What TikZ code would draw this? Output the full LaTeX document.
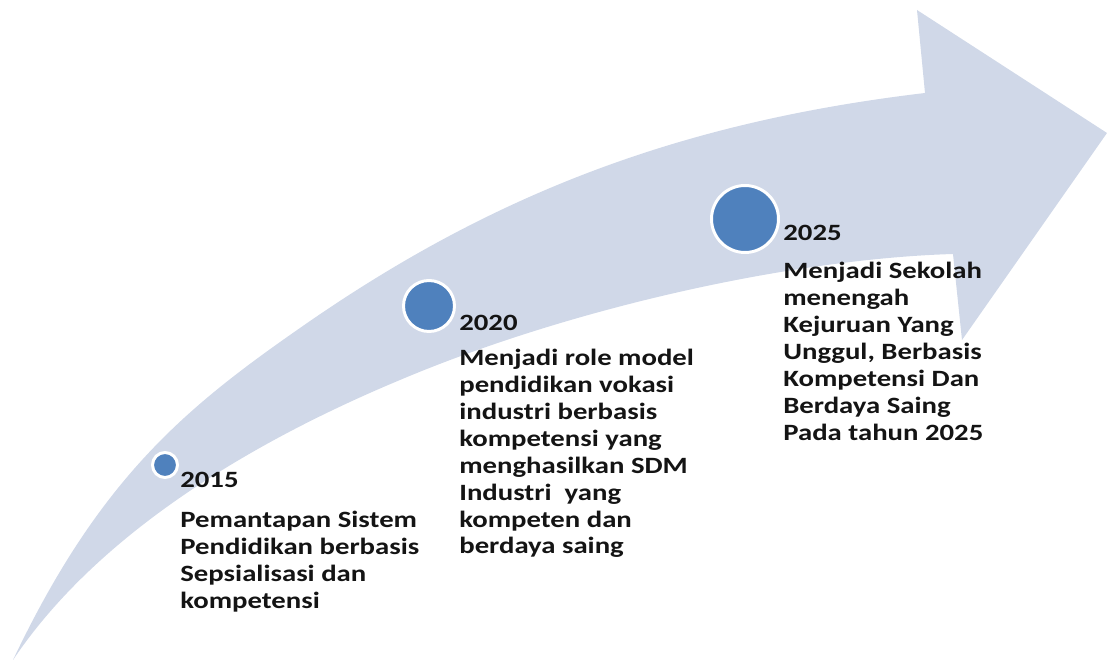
\documentclass[tikz,border=0pt]{standalone}
\usepackage{fontspec}
\setmainfont{Carlito}[FakeStretch=1.23]
\usepackage{xcolor}
\usepackage{tikz}
\usetikzlibrary{positioning}

\definecolor{arrowfill}{HTML}{D0D8E8}
\definecolor{dotblue}{HTML}{4F81BD}
\definecolor{inkblack}{HTML}{141414}

\begin{document}
\begin{tikzpicture}[x=0.02cm, y=-0.02cm,
    milestone/.style={circle, fill=dotblue, draw=white, line width=1.7pt, inner sep=0pt},
    yearlabel/.style={font=\fontsize{13.3}{15.3}\selectfont\bfseries, text=inkblack, inner sep=0pt, anchor=base west},
    infotext/.style={font=\fontsize{13.3}{15.3}\selectfont\bfseries, text=inkblack, inner sep=0pt, anchor=north west, align=left}]

    % Page frame
    \useasboundingbox (0,0) rectangle (1107,661);

    % Curved arrow
    \fill[arrowfill] (13,660) .. controls (99,479) and (185,408) .. (300,328)
        .. controls (493,193) and (681,122) .. (925,93)
        -- (917,10) -- (1107,133) -- (962,340) -- (953,254)
        .. controls (789,259) and (568,309) .. (400,380)
        .. controls (230,451) and (90,545) .. (13,660) -- cycle;

    % Milestones
    \node[milestone, minimum size=0.5cm] (dot2015) at (165,465) {};
    \node[milestone, minimum size=1.02cm] (dot2020) at (429,306) {};
    \node[milestone, minimum size=1.34cm] (dot2025) at (745,219) {};

    % Years
    \node[yearlabel] (year2015) at (180,488) {2015};
    \node[yearlabel] (year2020) at (459,331) {2020};
    \node[yearlabel] (year2025) at (783,241) {2025};

    % Descriptions
    \node[infotext] (info2015) at (180,511) {Pemantapan Sistem\\Pendidikan berbasis\\Sepsialisasi dan\\kompetensi};
    \node[infotext] (info2020) at (459,349) {Menjadi role model\\pendidikan vokasi\\industri berbasis\\kompetensi yang\\menghasilkan SDM\\Industri~ yang\\kompeten dan\\berdaya saing};
    \node[infotext] (info2025) at (783,262) {Menjadi Sekolah\\menengah\\Kejuruan Yang\\Unggul, Berbasis\\Kompetensi Dan\\Berdaya Saing\\Pada tahun 2025};

\end{tikzpicture}
\end{document}
